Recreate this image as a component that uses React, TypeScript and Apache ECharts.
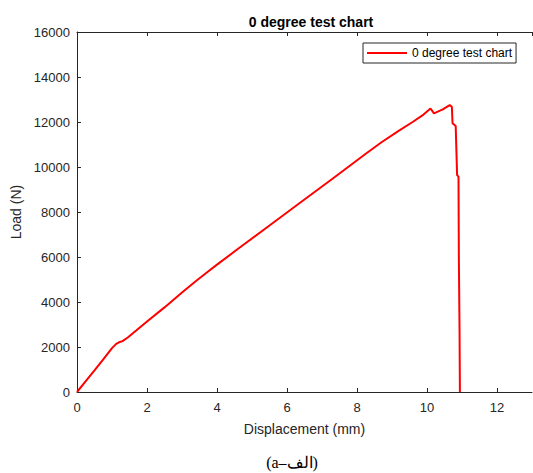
import React, { useEffect, useRef } from "react";
import * as echarts from "echarts";

const displacement = [0, 0.25, 0.5, 0.75, 1.0, 1.12, 1.2, 1.3, 1.45, 1.7, 2.0, 2.5, 3.0, 3.4, 3.7, 4.0, 4.65, 5.5, 6.45, 7.3, 8.25, 8.7, 9.2, 9.6, 9.9, 10.1, 10.2, 10.45, 10.65, 10.71, 10.73, 10.82, 10.86, 10.9, 10.91, 10.93, 10.94];
const load = [0, 480, 960, 1450, 1950, 2140, 2210, 2260, 2420, 2740, 3130, 3760, 4420, 4930, 5300, 5660, 6420, 7400, 8500, 9480, 10590, 11100, 11620, 12010, 12330, 12600, 12380, 12560, 12750, 12680, 11940, 11820, 9640, 9570, 6000, 2750, 0];
const seriesName = "0 degree test chart";
const chartTitle = "0 degree test chart";
const xName = "Displacement (mm)";
const yName = "Load (N)";
const caption = "(a–الف)";

const FONT = "'Liberation Sans', Arial, Helvetica, sans-serif";
const AX = "#262626";

export default function App() {
  const ref = useRef<HTMLDivElement>(null);
  useEffect(() => {
    if (!ref.current) return;
    const chart = echarts.init(ref.current, null, { renderer: "svg" });
    const data = displacement.map((d, i) => [d, load[i]]);
    chart.setOption({
      animation: false,
      backgroundColor: "#ffffff",
      textStyle: { fontFamily: FONT },
      title: {
        text: chartTitle,
        left: 306,
        textAlign: "center",
        top: 10,
        textStyle: { fontFamily: FONT, fontSize: 14, fontWeight: "bold", color: "#000" },
      },
      legend: {
        left: 363,
        top: 43,
        orient: "vertical",
        padding: [4, 4, 4, 4],
        backgroundColor: "#fff",
        borderColor: AX,
        borderWidth: 1,
        borderRadius: 0,
        icon: "rect",
        itemWidth: 40,
        itemHeight: 2,
        textStyle: { fontFamily: FONT, fontSize: 12, color: "#000" },
        data: [seriesName],
      },
      grid: { left: 77, top: 32, width: 455, height: 360, containLabel: false },
      xAxis: [
        {
          type: "value",
          min: 0,
          max: 13,
          interval: 2,
          position: "bottom",
          name: xName,
          nameLocation: "middle",
          nameGap: 30,
          nameTextStyle: { fontFamily: FONT, fontSize: 14, color: AX },
          axisLine: { show: true, lineStyle: { color: AX, width: 1 } },
          axisTick: { show: true, inside: true, length: 4, lineStyle: { color: AX } },
          axisLabel: { fontFamily: FONT, fontSize: 13, color: AX, margin: 9, showMaxLabel: false },
          splitLine: { show: false },
        },
        {
          type: "value",
          min: 0,
          max: 13,
          interval: 2,
          position: "top",
          axisLine: { show: true, lineStyle: { color: AX, width: 1 } },
          axisTick: { show: true, inside: true, length: 4, lineStyle: { color: AX } },
          axisLabel: { show: false },
          splitLine: { show: false },
        },
      ],
      yAxis: [
        {
          type: "value",
          min: 0,
          max: 16000,
          interval: 2000,
          position: "left",
          name: yName,
          nameLocation: "middle",
          nameRotate: 90,
          nameGap: 50,
          nameTextStyle: { fontFamily: FONT, fontSize: 14, color: AX },
          axisLine: { show: true, lineStyle: { color: AX, width: 1 } },
          axisTick: { show: true, inside: true, length: 4, lineStyle: { color: AX } },
          axisLabel: {
            fontFamily: FONT,
            fontSize: 13,
            color: AX,
            margin: 7,
            formatter: (v: number) => String(v),
          },
          splitLine: { show: false },
        },
      ],
      series: [
        {
          name: seriesName,
          type: "line",
          xAxisIndex: 0,
          yAxisIndex: 0,
          data,
          showSymbol: false,
          symbol: "none",
          lineStyle: { color: "#ff0000", width: 2 },
          itemStyle: { color: "#ff0000" },
        },
      ],
      graphic: [
        {
          type: "text",
          x: 292,
          y: 462,
          style: {
            text: caption,
            fontFamily: "'Liberation Serif', 'DejaVu Serif', serif",
            fontSize: 16,
            fill: "#000",
            textAlign: "center",
            textVerticalAlign: "middle",
          },
        },
      ],
    });
    return () => chart.dispose();
  }, []);
  return (
    <div
      ref={ref}
      style={{ position: "fixed", left: 0, top: 0, width: 533, height: 473, background: "#fff" }}
    />
  );
}
